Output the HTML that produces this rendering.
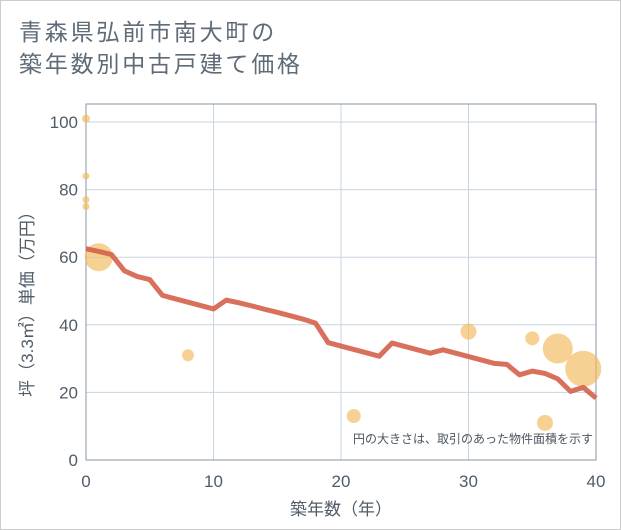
<!DOCTYPE html>
<html><head><meta charset="utf-8"><style>
body{margin:0;background:#fff;font-family:"Liberation Sans","Noto Sans CJK JP",sans-serif;}
#wrap{position:relative;width:619px;height:528px;border:1px solid #ccc;background:#fff;}
.title{position:absolute;left:18px;top:15px;font-size:23px;line-height:32px;color:#5f6b77;letter-spacing:2.8px;}
</style></head><body>
<div id="wrap">
<div class="title">青森県弘前市南大町の<br>築年数別中古戸建て価格</div>
<svg id="chart" width="621" height="530" style="position:absolute;left:-1px;top:-1px"></svg>
</div>
<script>
const xTicks=[0,10,20,30,40];
const yTicks=[0,20,40,60,80,100];
const lineYears=[0,1,2,3,4,5,6,7,8,9,10,11,12,13,14,15,16,17,18,19,20,21,22,23,24,25,26,27,28,29,30,31,32,33,34,35,36,37,38,39,40];
const lineValues=[62.5,61.7,60.8,56,54.3,53.4,48.7,47.7,46.7,45.7,44.7,47.3,46.5,45.6,44.6,43.7,42.7,41.7,40.5,34.7,33.7,32.7,31.7,30.7,34.6,33.6,32.6,31.6,32.6,31.6,30.6,29.6,28.6,28.3,25.2,26.3,25.6,24,20.3,21.5,18.3];
const bubbleYears=[0,0,0,0,1,8,21,30,35,36,37,39];
const bubblePrices=[101,84,77,75,60,31,13,38,36,11,33,27];
const bubbleSizes=[4,3.5,3.5,3.5,14,6,7,8,7,8,15,18];
const NS="http://www.w3.org/2000/svg";
const svg=document.getElementById('chart');
const L=86,R=596,T=104,B=460;
const xs=v=>L+(v-0)/40*(R-L);
const ys=v=>B-v/100*338;
function mk(t,a){const e=document.createElementNS(NS,t);for(const k in a)e.setAttribute(k,a[k]);svg.appendChild(e);return e;}
let e;
e=mk('rect',{x:L,y:T,width:R-L,height:B-T,fill:'#fff',stroke:'none'});


xTicks.forEach(t=>{
 e=mk('line',{x1:xs(t),x2:xs(t),y1:T,y2:B,stroke:'#c9d5e3','stroke-width':1});
 
 
 e=mk('text',{x:xs(t),y:487,'text-anchor':'middle','font-size':17,fill:'#505c68'});
 e.textContent=t;
 
 
});
yTicks.forEach(t=>{
 e=mk('line',{x1:L,x2:R,y1:ys(t),y2:ys(t),stroke:'#c9d5e3','stroke-width':1});
 
 
 e=mk('text',{x:78,y:ys(t)+6,'text-anchor':'end','font-size':17,fill:'#505c68'});
 e.textContent=t;
 
 
});
e=mk('rect',{x:L,y:T,width:R-L,height:B-T,fill:'none',stroke:'#8a96a3','stroke-width':1});


bubbleYears.forEach((yr,i)=>{
 e=mk('circle',{cx:xs(yr),cy:ys(bubblePrices[i]),r:bubbleSizes[i],fill:'#f2b85a','fill-opacity':0.65});
 
 
});
e=mk('polyline',{points:lineYears.map((y,i)=>xs(y)+','+ys(lineValues[i])).join(' '),fill:'none',stroke:'#d4604a','stroke-opacity':0.9,'stroke-width':5,'stroke-linejoin':'round'});


e=mk('text',{x:593,y:443,'text-anchor':'end','font-size':12,fill:'#4a5560'});
e.textContent='円の大きさは、取引のあった物件面積を示す';


e=mk('text',{x:341,y:515,'text-anchor':'middle','font-size':17,fill:'#505c68'});
e.textContent='築年数（年）';


e=mk('text',{x:0,y:0,'text-anchor':'middle','font-size':17,fill:'#505c68',transform:'translate(33,300) rotate(-90)'});
e.textContent='坪（3.3㎡）単価（万円）';


</script>
</body></html>
